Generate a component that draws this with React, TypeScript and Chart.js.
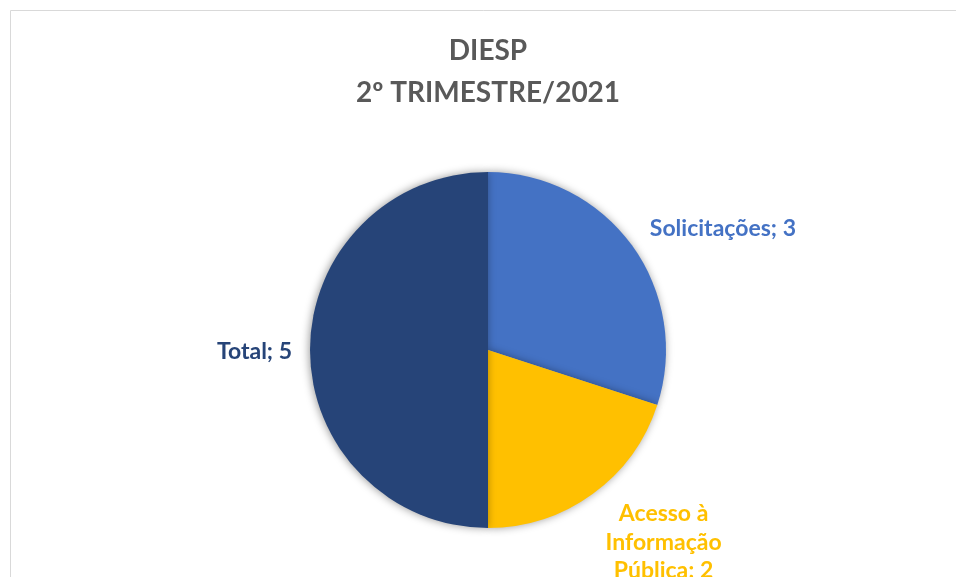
import React, { useEffect, useRef } from "react";
import { Chart, registerables } from "chart.js";

Chart.register(...registerables);

const categories = ["Solicitações", "Acesso à Informação Pública", "Total"];
const values = [3, 2, 5];
const sliceColors = ["#4472C4", "#FFC000", "#264478"];
const titleLines = ["DIESP", "2º TRIMESTRE/2021"];

const FONT = "Lato, 'Noto Sans', sans-serif";

const framePlugin = {
  id: "frame",
  beforeDraw(chart: any) {
    const ctx = chart.ctx;
    ctx.save();
    ctx.strokeStyle = "#d9d9d9";
    ctx.lineWidth = 1;
    ctx.beginPath();
    ctx.moveTo(10.5, chart.height);
    ctx.lineTo(10.5, 10.5);
    ctx.lineTo(chart.width, 10.5);
    ctx.stroke();
    ctx.restore();
  },
};

const shadowPlugin = {
  id: "pieShadow",
  beforeDatasetsDraw(chart: any) {
    const ctx = chart.ctx;
    ctx.save();
    ctx.shadowColor = "rgba(0,0,0,0.4)";
    ctx.shadowBlur = 9;
    ctx.shadowOffsetX = -1;
    ctx.shadowOffsetY = 0;
  },
  afterDatasetsDraw(chart: any) {
    chart.ctx.restore();
  },
};

function wrap(ctx: CanvasRenderingContext2D, text: string, maxW: number) {
  const words = text.split(" ");
  const lines: string[] = [];
  let cur = "";
  for (const w of words) {
    const t = cur ? cur + " " + w : w;
    if (cur && ctx.measureText(t).width > maxW) {
      lines.push(cur);
      cur = w;
    } else cur = t;
  }
  if (cur) lines.push(cur);
  return lines;
}

const labelPlugin = {
  id: "outsideLabels",
  afterDatasetsDraw(chart: any) {
    const ctx: CanvasRenderingContext2D = chart.ctx;
    const meta = chart.getDatasetMeta(0);
    const ds = chart.data.datasets[0];
    ctx.save();
    ctx.font = `bold 23px ${FONT}`;
    ctx.textBaseline = "middle";
    ctx.textAlign = "center";
    const lh = 28.5;
    meta.data.forEach((arc: any, i: number) => {
      const p = arc.getProps(["x", "y", "startAngle", "endAngle", "outerRadius"], true);
      const mid = (p.startAngle + p.endAngle) / 2;
      const dx = Math.cos(mid);
      const dy = Math.sin(mid);
      const R = p.outerRadius + 22;
      const ax = p.x + dx * R;
      const ay = p.y + dy * R;
      const text = `${chart.data.labels[i]}; ${ds.data[i]}`;
      const lines = wrap(ctx, text, 165);
      const bw = Math.max(...lines.map((l) => ctx.measureText(l).width));
      let cx: number;
      if (dx > 0.1) cx = ax + bw / 2;
      else if (dx < -0.1) cx = ax + 4 - bw / 2;
      else cx = ax;
      const n = lines.length;
      let firstY: number;
      if (dy > 0.3) firstY = ay;
      else if (dy < -0.3) firstY = ay - (n - 1) * lh - lh * 0.2;
      else firstY = ay - ((n - 1) * lh) / 2;
      firstY += 2;
      ctx.fillStyle = sliceColors[i];
      lines.forEach((l, k) => ctx.fillText(l, cx, firstY + k * lh));
    });
    ctx.restore();
  },
};

export default function App() {
  const ref = useRef<HTMLCanvasElement>(null);
  useEffect(() => {
    document.body.style.margin = "0";
    const chart = new Chart(ref.current!, {
      type: "pie",
      data: {
        labels: categories,
        datasets: [
          {
            data: values,
            backgroundColor: sliceColors,
            borderWidth: 0,
          },
        ],
      },
      options: {
        animation: false,
        responsive: false,
        layout: { padding: { left: 310, right: 290, top: 0, bottom: 49 } },
        plugins: {
          legend: { display: false },
          tooltip: { enabled: false },
          title: {
            display: true,
            text: titleLines,
            color: "#595959",
            font: { family: FONT, size: 28, weight: "bold", lineHeight: 1.5 },
            padding: { top: 30, bottom: 58 },
          },
        },
      },
      plugins: [framePlugin, shadowPlugin, labelPlugin],
    });
    return () => chart.destroy();
  }, []);
  return (
    <div style={{ width: 956, height: 577, background: "#fff" }}>
      <canvas ref={ref} width={956} height={577} style={{ display: "block" }} />
    </div>
  );
}
